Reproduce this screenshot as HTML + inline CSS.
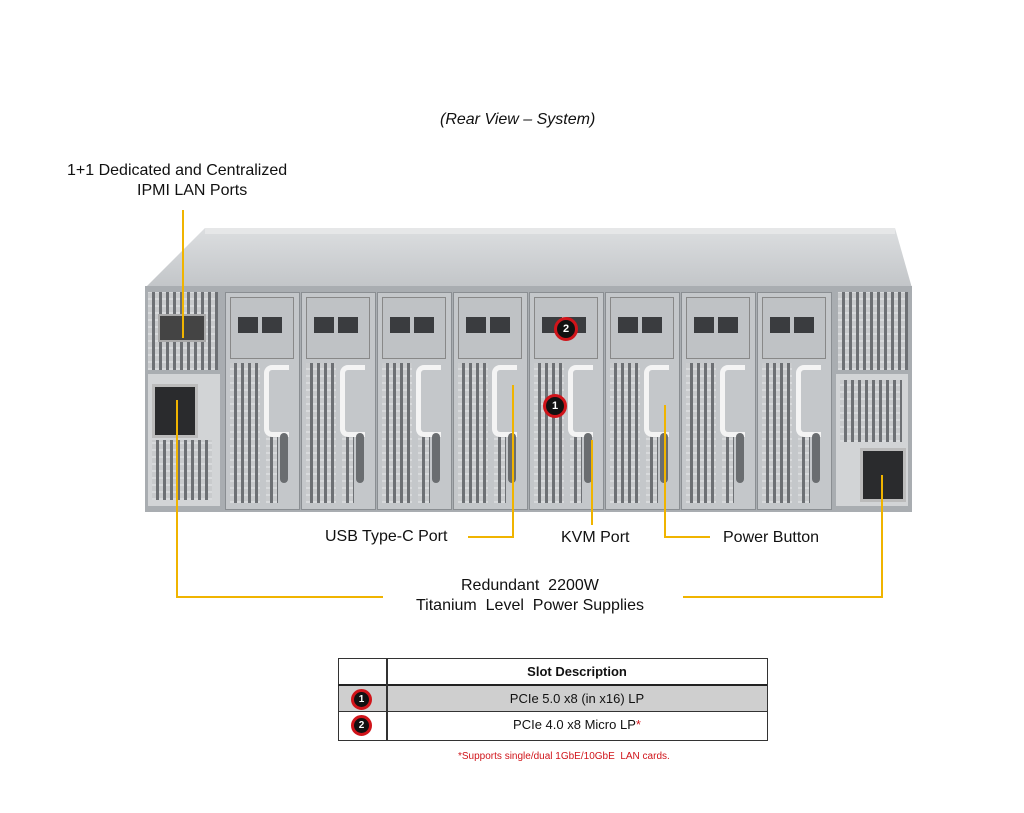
<!DOCTYPE html>
<html><head><style>
body{margin:0;width:1024px;height:813px;background:#fff;position:relative;overflow:hidden;font-family:"Liberation Sans",sans-serif;color:#111}
.a{position:absolute}
.t{position:absolute;font-size:16px;white-space:nowrap}
.grid{background-color:#c9cbcd;background-image:repeating-linear-gradient(90deg,transparent 0 4px,#6d7074 4px 7px),repeating-linear-gradient(0deg,#d8dadc 0 2px,transparent 2px 7px)}
.node{position:absolute;top:292px;width:73px;height:216px;background:#c4c7ca;border:1px solid #8a8e92}
.node .top{position:absolute;left:4px;top:4px;width:62px;height:60px;background:#bfc2c5;border:1px solid #888}
.node .rj{position:absolute;top:24px;width:20px;height:16px;background:#3a3c3f}
.node .g{position:absolute;left:4px;top:70px;width:30px;height:140px}
.node .g2{position:absolute;left:40px;top:140px;width:12px;height:70px}
.node .h{position:absolute;left:38px;top:72px;width:20px;height:62px;border:5px solid #f4f4f4;border-right:none;border-radius:8px 0 0 8px}
.node .d{position:absolute;left:54px;top:140px;width:8px;height:50px;background:#6a6d70;border-radius:4px}
.y{position:absolute;background:#f0b400}
.c{position:absolute;width:18px;height:18px;border-radius:50%;background:#111;border:3px solid #d0141a;color:#fff;font-size:11px;font-weight:bold;text-align:center;line-height:18px;box-sizing:content-box}
</style></head><body>
<div class="t" style="left:440px;top:111px;font-style:italic;">(Rear View – System)</div>
<div class="t" style="left:67px;top:162px;">1+1 Dedicated and Centralized</div>
<div class="t" style="left:137px;top:182px;">IPMI LAN Ports</div>

<svg class="a" style="left:0;top:0" width="1024" height="813">
<defs><linearGradient id="lg" x1="0" y1="0" x2="0" y2="1"><stop offset="0" stop-color="#dcdee0"/><stop offset="1" stop-color="#c2c5c8"/></linearGradient></defs>
<polygon points="205,228 895,228 912,288 145,288" fill="url(#lg)"/>
<rect x="205" y="228" width="690" height="6" fill="#e6e7e8"/>
<rect x="145" y="286" width="767" height="226" fill="#a9adb1"/>
</svg>
<div class="a grid" style="left:148px;top:292px;width:70px;height:78px"></div>
<div class="a" style="left:158px;top:314px;width:44px;height:24px;background:#444;border:2px solid #aaa"></div>
<div class="a" style="left:148px;top:374px;width:72px;height:132px;background:#d2d4d6"></div>
<div class="a" style="left:152px;top:384px;width:40px;height:48px;background:#2a2b2d;border:3px solid #bbb"></div>
<div class="a grid" style="left:152px;top:440px;width:60px;height:60px"></div>
<div class="a grid" style="left:838px;top:292px;width:70px;height:78px"></div>
<div class="a" style="left:836px;top:374px;width:72px;height:132px;background:#d2d4d6"></div>
<div class="a grid" style="left:840px;top:380px;width:62px;height:62px"></div>
<div class="a" style="left:860px;top:448px;width:40px;height:48px;background:#2a2b2d;border:3px solid #bbb"></div>

<div class="node" style="left:225px"><div class="top"></div><div class="rj" style="left:12px"></div><div class="rj" style="left:36px"></div><div class="g grid"></div><div class="g2 grid"></div><div class="h"></div><div class="d"></div></div>
<div class="node" style="left:301px"><div class="top"></div><div class="rj" style="left:12px"></div><div class="rj" style="left:36px"></div><div class="g grid"></div><div class="g2 grid"></div><div class="h"></div><div class="d"></div></div>
<div class="node" style="left:377px"><div class="top"></div><div class="rj" style="left:12px"></div><div class="rj" style="left:36px"></div><div class="g grid"></div><div class="g2 grid"></div><div class="h"></div><div class="d"></div></div>
<div class="node" style="left:453px"><div class="top"></div><div class="rj" style="left:12px"></div><div class="rj" style="left:36px"></div><div class="g grid"></div><div class="g2 grid"></div><div class="h"></div><div class="d"></div></div>
<div class="node" style="left:529px"><div class="top"></div><div class="rj" style="left:12px"></div><div class="rj" style="left:36px"></div><div class="g grid"></div><div class="g2 grid"></div><div class="h"></div><div class="d"></div></div>
<div class="node" style="left:605px"><div class="top"></div><div class="rj" style="left:12px"></div><div class="rj" style="left:36px"></div><div class="g grid"></div><div class="g2 grid"></div><div class="h"></div><div class="d"></div></div>
<div class="node" style="left:681px"><div class="top"></div><div class="rj" style="left:12px"></div><div class="rj" style="left:36px"></div><div class="g grid"></div><div class="g2 grid"></div><div class="h"></div><div class="d"></div></div>
<div class="node" style="left:757px"><div class="top"></div><div class="rj" style="left:12px"></div><div class="rj" style="left:36px"></div><div class="g grid"></div><div class="g2 grid"></div><div class="h"></div><div class="d"></div></div>

<div class="c" style="left:554px;top:317px">2</div>
<div class="c" style="left:543px;top:394px">1</div>

<div class="y" style="left:182px;top:210px;width:2px;height:128px"></div>
<div class="y" style="left:176px;top:400px;width:2px;height:198px"></div>
<div class="y" style="left:176px;top:596px;width:207px;height:2px"></div>
<div class="y" style="left:881px;top:475px;width:2px;height:123px"></div>
<div class="y" style="left:683px;top:596px;width:200px;height:2px"></div>
<div class="y" style="left:512px;top:385px;width:2px;height:153px"></div>
<div class="y" style="left:468px;top:536px;width:46px;height:2px"></div>
<div class="y" style="left:591px;top:440px;width:2px;height:85px"></div>
<div class="y" style="left:664px;top:405px;width:2px;height:133px"></div>
<div class="y" style="left:664px;top:536px;width:46px;height:2px"></div>

<div class="t" style="left:325px;top:528px;">USB Type-C Port</div>
<div class="t" style="left:561px;top:529px;">KVM Port</div>
<div class="t" style="left:723px;top:529px;">Power Button</div>
<div class="t" style="left:461px;top:577px;">Redundant&nbsp; 2200W</div>
<div class="t" style="left:416px;top:597px;">Titanium&nbsp; Level&nbsp; Power Supplies</div>

<div class="a" style="left:338px;top:658px;width:428px;height:81px;border:1px solid #333;"></div>
<div class="a" style="left:339px;top:686px;width:428px;height:25px;background:#cfcfcf"></div>
<div class="a" style="left:338px;top:684px;width:429px;height:2px;background:#222"></div>
<div class="a" style="left:338px;top:711px;width:429px;height:1px;background:#333"></div>
<div class="a" style="left:386px;top:658px;width:2px;height:82px;background:#333"></div>
<div class="t" style="left:388px;top:664px;width:378px;text-align:center;font-size:13px;font-weight:bold">Slot Description</div>
<div class="t" style="left:388px;top:691px;width:378px;text-align:center;font-size:13px">PCIe 5.0 x8 (in x16) LP</div>
<div class="t" style="left:388px;top:717px;width:378px;text-align:center;font-size:13px">PCIe 4.0 x8 Micro LP<span style="color:#d0141a">*</span></div>
<div class="c" style="left:351px;top:689px;width:15px;height:15px;line-height:15px;font-size:10px">1</div>
<div class="c" style="left:351px;top:715px;width:15px;height:15px;line-height:15px;font-size:10px">2</div>
<div class="t" style="left:458px;top:751px;font-size:10px;color:#d0141a">*Supports single/dual 1GbE/10GbE&nbsp; LAN cards.</div>
</body></html>
